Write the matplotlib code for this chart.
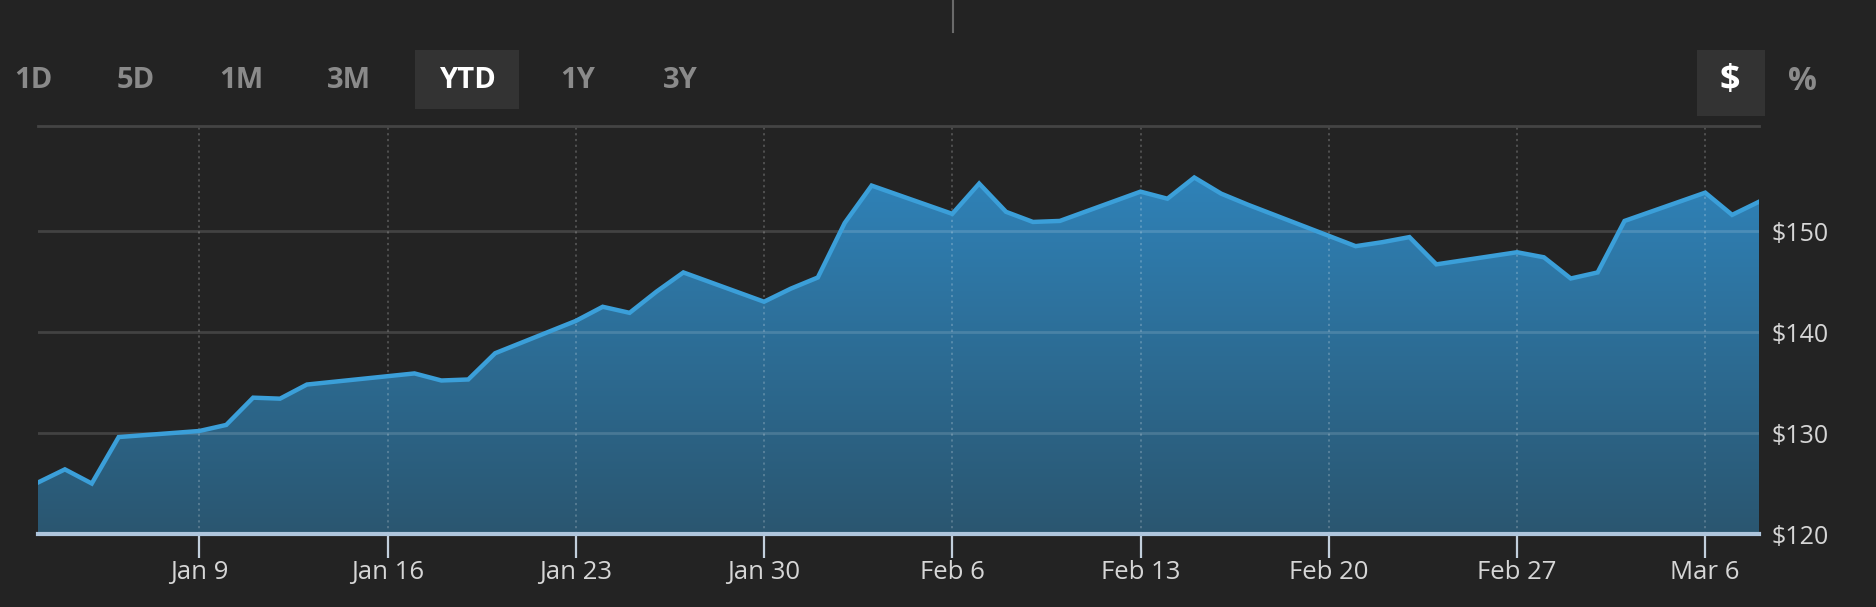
import numpy as np
import pandas as pd
import matplotlib
matplotlib.use('Agg')
import matplotlib.pyplot as plt
import matplotlib.dates as mdates
from matplotlib import font_manager
from matplotlib.colors import LinearSegmentedColormap
from matplotlib.patches import PathPatch, Rectangle
from matplotlib.lines import Line2D

# daily closes (trading days only)
dates = ['2023-01-03', '2023-01-04', '2023-01-05', '2023-01-06',
         '2023-01-09', '2023-01-10', '2023-01-11', '2023-01-12', '2023-01-13',
         '2023-01-17', '2023-01-18', '2023-01-19', '2023-01-20',
         '2023-01-23', '2023-01-24', '2023-01-25', '2023-01-26', '2023-01-27',
         '2023-01-30', '2023-01-31', '2023-02-01', '2023-02-02', '2023-02-03',
         '2023-02-06', '2023-02-07', '2023-02-08', '2023-02-09', '2023-02-10',
         '2023-02-13', '2023-02-14', '2023-02-15', '2023-02-16', '2023-02-17',
         '2023-02-21', '2023-02-22', '2023-02-23', '2023-02-24',
         '2023-02-27', '2023-02-28', '2023-03-01', '2023-03-02', '2023-03-03',
         '2023-03-06', '2023-03-07', '2023-03-08']
prices = [125.1, 126.4, 125.0, 129.6,
          130.2, 130.8, 133.5, 133.4, 134.8,
          135.9, 135.2, 135.3, 137.9,
          141.1, 142.5, 141.9, 144.0, 145.9,
          143.0, 144.3, 145.4, 150.8, 154.5,
          151.7, 154.7, 151.9, 150.9, 151.0,
          153.9, 153.2, 155.3, 153.7, 152.6,
          148.5, 148.9, 149.4, 146.7,
          147.9, 147.4, 145.3, 145.9, 151.0,
          153.8, 151.6, 152.9]

tick_dates = ['2023-01-09', '2023-01-16', '2023-01-23', '2023-01-30', '2023-02-06',
              '2023-02-13', '2023-02-20', '2023-02-27', '2023-03-06']
tick_labels = ['Jan 9', 'Jan 16', 'Jan 23', 'Jan 30', 'Feb 6',
               'Feb 13', 'Feb 20', 'Feb 27', 'Mar 6']
y_ticks = [120, 130, 140, 150]
y_labels = ['$120', '$130', '$140', '$150']
range_buttons = ['1D', '5D', '1M', '3M', 'YTD', '1Y', '3Y']
active_button = 'YTD'
unit_buttons = ['$', '%']


def pick_font(names):
    for n in names:
        try:
            font_manager.findfont(font_manager.FontProperties(family=n), fallback_to_default=False)
            return n
        except ValueError:
            pass
    return 'DejaVu Sans'


label_font = pick_font(['Open Sans', 'Noto Sans', 'DejaVu Sans'])
button_font = pick_font(['Liberation Sans Narrow', 'Open Sans', 'DejaVu Sans'])

W, H = 1876, 607
bg = '#232323'
fig = plt.figure(figsize=(W / 100, H / 100), dpi=100)
fig.patch.set_facecolor(bg)

# plot area in pixels: x 38..1759, y 126..534
ax = fig.add_axes([38 / W, (H - 534) / H, (1759 - 38) / W, (534 - 126) / H])
ax.set_facecolor(bg)

x = mdates.date2num(pd.to_datetime(dates))
ax.set_xlim(x[0], x[-1])
ax.set_ylim(120, 160.4)

# gradient area under the line
grad = np.linspace(0, 1, 256).reshape(-1, 1)
cmap = LinearSegmentedColormap.from_list('fill', ['#2a5670', '#2f82b8'])
im = ax.imshow(grad, extent=[x[0], x[-1], 120, max(prices)], origin='lower',
               aspect='auto', cmap=cmap, zorder=1, interpolation='bilinear')
area = ax.fill_between(x, prices, 120, color='none', lw=0)
clip = PathPatch(area.get_paths()[0], transform=ax.transData, facecolor='none', edgecolor='none')
ax.add_patch(clip)
im.set_clip_path(clip)

# grid
for yv in y_ticks[1:]:
    ax.axhline(yv, color='white', alpha=0.14, lw=2, zorder=2)
xt = mdates.date2num(pd.to_datetime(tick_dates))
for xv in xt:
    ax.axvline(xv, color='white', alpha=0.22, lw=1.3, ls=(0, (1.2, 2)), zorder=2)

ax.plot(x, prices, color='#3b9fd9', lw=3.2, zorder=4, solid_joinstyle='miter')

for s in ['left', 'right']:
    ax.spines[s].set_visible(False)
ax.spines['top'].set_color('#444444')
ax.spines['top'].set_linewidth(2)
ax.spines['bottom'].set_color('#afc6dd')
ax.spines['bottom'].set_linewidth(3)
ax.spines['bottom'].set_zorder(5)

ax.set_xticks(xt)
ax.set_xticklabels(tick_labels, fontfamily=label_font, fontsize=18.5)
ax.tick_params(axis='x', length=17, width=1.6, color='#c2cfdc', pad=2, labelcolor='#d6d6d6')
ax.yaxis.tick_right()
ax.set_yticks(y_ticks)
ax.set_yticklabels(y_labels, fontfamily=label_font, fontsize=18)
ax.tick_params(axis='y', length=0, pad=9, labelcolor='#d6d6d6')

# range selector buttons
btn_x = [33, 136, 241, 349, 467, 578, 680]
fig.add_artist(Rectangle((415 / W, 1 - 109 / H), 104 / W, 59 / H, transform=fig.transFigure,
                         facecolor='#333333', edgecolor='none'))
for lbl, bx in zip(range_buttons, btn_x):
    col = 'white' if lbl == active_button else '#8a8a8a'
    fig.text(bx / W, 1 - 80 / H, lbl, ha='center', va='center', color=col,
             fontfamily=button_font, fontweight='bold', fontsize=21)

# $ / % toggle
fig.add_artist(Rectangle((1697 / W, 1 - 116 / H), 68 / W, 66 / H, transform=fig.transFigure,
                         facecolor='#333333', edgecolor='none'))
fig.text(1730 / W, 1 - 81 / H, unit_buttons[0], ha='center', va='center', color='white',
         fontfamily=button_font, fontweight='bold', fontsize=26)
fig.text(1802 / W, 1 - 81 / H, unit_buttons[1], ha='center', va='center', color='#8a8a8a',
         fontfamily=button_font, fontweight='bold', fontsize=23)

# small divider at the top
fig.add_artist(Line2D([952.5 / W, 952.5 / W], [1, 1 - 32 / H], transform=fig.transFigure,
                      color='#6a6a6a', lw=1.5))

fig.savefig('out.png', dpi=100, facecolor=bg)
